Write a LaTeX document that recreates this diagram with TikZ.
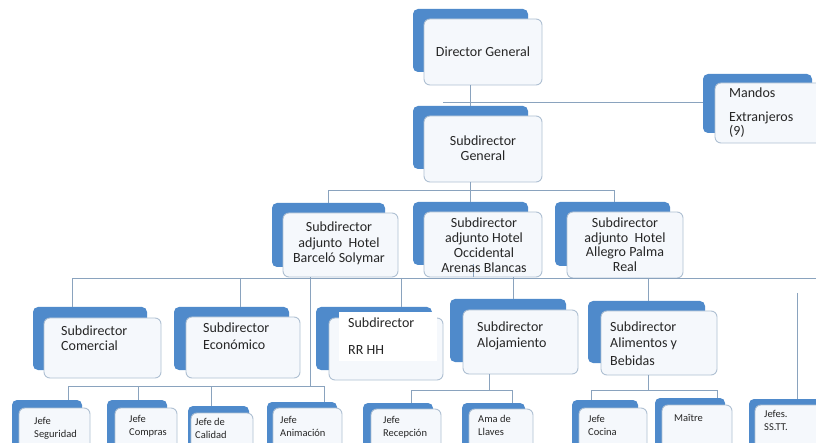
\documentclass[tikz,border=0pt]{standalone}
\usepackage{fontspec}
\setmainfont{Carlito}
\usetikzlibrary{fit}
\definecolor{backblue}{HTML}{4F8ACB}
\definecolor{frontfill}{HTML}{F5F8FC}
\definecolor{frontline}{HTML}{AFC0D3}
\definecolor{connc}{HTML}{8AA3BE}
\definecolor{txtc}{HTML}{262626}
\newcommand\obox[9]{%
  \node[backbox, fit={(#2,#3) (#4,#5)}] (#1b) {};
  \node[frontbox, fit={(#6,#7) (#8,#9)}] (#1) {};
}
\newcommand\linel[5]{\node[#1, anchor=base west] (#2) at (#3,#4) {#5};}
\newcommand\linec[5]{\node[#1, anchor=base] (#2) at (#3,#4) {#5};}
\begin{document}
\begin{tikzpicture}[x=1pt,y=-1pt,
  backbox/.style={rectangle, fill=backblue, rounded corners=5pt, inner sep=0pt},
  frontbox/.style={rectangle, draw=frontline, fill=frontfill, line width=0.9pt, rounded corners=6pt, inner sep=0pt},
  conn/.style={draw=connc, line width=0.9pt},
  big/.style={font=\fontsize{14}{15}\selectfont, text=txtc, inner sep=0pt},
  small/.style={font=\fontsize{10.5}{12}\selectfont, text=txtc, inner sep=0pt}]
\useasboundingbox (0,0) rectangle (816,443);
\fill[white] (0,0) rectangle (816,443);
\clip (0,0) rectangle (816,443);
% boxes
\obox{dg}{413}{9}{528}{72}{424}{19}{542}{85}
\obox{mandos}{703}{74}{812}{133}{715}{83}{830}{143}
\obox{sg}{413}{106}{528}{169}{424}{116}{542}{182}
\obox{barc}{272}{203}{385}{267}{283}{213}{398}{277}
\obox{occ}{413}{202}{528}{265}{424}{212}{542}{277}
\obox{alle}{555}{202}{670}{266}{567}{212}{683}{278}
\obox{com}{33}{307}{147}{370}{44}{318}{161}{378}
\obox{eco}{174}{307}{289}{370}{186}{317}{300}{378}
\obox{rrhh}{316}{307}{432}{370}{329}{318}{443}{380}
\node[fill=white, inner sep=0pt, minimum width=98pt, minimum height=49pt, anchor=north west] (rrhhbg) at (339,312) {};
\obox{aloj}{450}{299}{566}{362}{463}{310}{578}{374}
\obox{alim}{588}{301}{705}{363}{601}{311}{717}{375}
\obox{seg}{12}{400}{82}{450}{19}{408}{90}{450}
\obox{comp}{107}{400}{167}{450}{115}{408}{177}{450}
\obox{cal}{188}{406}{249}{450}{191}{413}{253}{450}
\obox{anim}{267}{402}{337}{450}{273}{408}{342}{450}
\obox{recep}{363}{403}{433}{450}{371}{409}{441}{450}
\obox{ama}{462}{403}{525}{450}{469}{409}{533}{450}
\obox{coc}{572}{400}{638}{450}{579}{408}{647}{450}
\obox{mai}{655}{398}{725}{450}{662}{405}{732}{450}
\obox{sstt}{749}{399}{830}{450}{755}{405}{830}{450}
% connector coordinates
\coordinate (x470) at (470,0);
\coordinate (h1l) at (443,102);
\coordinate (h2l) at (328,190);
\coordinate (h2r) at (614,190);
\coordinate (h3l) at (72,278);
\coordinate (h3r) at (816,278);
\coordinate (x240) at (240,278);
\coordinate (x401) at (401,278);
\coordinate (x513) at (513,0);
\coordinate (x648) at (648,0);
\coordinate (x310) at (310,386);
\coordinate (x473) at (473,264);
\coordinate (x797) at (797,293);
\coordinate (h4l) at (68,386);
\coordinate (h4r) at (324,386);
\coordinate (x138) at (138,386);
\coordinate (x211) at (211,386);
\coordinate (x489) at (489,390);
\coordinate (h5l) at (411,390);
\coordinate (h5r) at (512,390);
\coordinate (h6l) at (591,390);
\coordinate (h6r) at (717,390);
% connectors
\draw[conn] (x470 |- dg.south) -- (x470 |- sgb.north);
\draw[conn] (h1l) -- (mandosb.west |- h1l);
\draw[conn] (x470 |- sg.south) -- (x470 |- occb.north);
\draw[conn] (h2l |- barcb.north) -- (h2l) -- (h2r) -- (h2r |- alleb.north);
\draw[conn] (h3l |- comb.north) -- (h3l) -- (h3r);
\draw[conn] (x240) -- (x240 |- ecob.north);
\draw[conn] (x401) -- (x401 |- rrhhb.north);
\draw[conn] (x513 |- occ.south) -- (x513 |- alojb.north);
\draw[conn] (x648 |- alle.south) -- (x648 |- alimb.north);
\draw[conn] (x473) -- (x473 |- occ.south);
\draw[conn] (x797) -- (x797 |- ssttb.north);
\draw[conn] (x310 |- barc.south) -- (x310);
\draw[conn] (h4l |- segb.north) -- (h4l) -- (h4r) -- (h4r |- animb.north);
\draw[conn] (x138) -- (x138 |- compb.north);
\draw[conn] (x211) -- (x211 |- calb.north);
\draw[conn] (x489 |- aloj.south) -- (x489);
\draw[conn] (h5l |- recepb.north) -- (h5l) -- (h5r) -- (h5r |- amab.north);
\draw[conn] (x648 |- alim.south) -- (x648 |- h6l);
\draw[conn] (h6l |- cocb.north) -- (h6l) -- (h6r) -- (h6r |- maib.north);
% texts
\linec{big}{dgt}{483}{57}{Director General}
\linel{big}{mt1}{729}{98}{Mandos}
\linel{big}{mt2}{729}{122}{Extranjeros}
\linel{big}{mt3}{729}{136}{(9)}
\linec{big}{sgt1}{483}{146}{Subdirector}
\linec{big}{sgt2}{483}{161}{General}
\linec{big}{bat1}{339}{232}{Subdirector}
\linec{big}{bat2}{339}{248}{adjunto\ \ Hotel}
\linec{big}{bat3}{339}{263}{Barceló Solymar}
\linec{big}{oct1}{484}{228}{Subdirector}
\linec{big}{oct2}{484}{243}{adjunto Hotel}
\linec{big}{oct3}{484}{258}{Occidental}
\linec{big}{oct4}{484}{273}{Arenas Blancas}
\linec{big}{alt1}{625}{228}{Subdirector}
\linec{big}{alt2}{625}{243}{adjunto\ \ Hotel}
\linec{big}{alt3}{625}{257}{Allegro Palma}
\linec{big}{alt4}{625}{272}{Real}
\linel{big}{cot1}{61}{335}{Subdirector}
\linel{big}{cot2}{61}{351}{Comercial}
\linel{big}{ect1}{203}{333}{Subdirector}
\linel{big}{ect2}{203}{349}{Económico}
\linel{big}{rrt1}{348}{328}{Subdirector}
\linel{big}{rrt2}{348}{354}{RR HH}
\linel{big}{alot1}{477}{332}{Subdirector}
\linel{big}{alot2}{477}{348}{Alojamiento}
\linel{big}{alit1}{610}{332}{Subdirector}
\linel{big}{alit2}{610}{348}{Alimentos y}
\linel{big}{alit3}{610}{365}{Bebidas}
\linel{small}{set1}{34}{424}{Jefe}
\linel{small}{set2}{34}{437}{Seguridad}
\linel{small}{cpt1}{129}{422}{Jefe}
\linel{small}{cpt2}{129}{435}{Compras}
\linel{small}{cat1}{195}{425}{Jefe de}
\linel{small}{cat2}{195}{438}{Calidad}
\linel{small}{ant1}{280}{423}{Jefe}
\linel{small}{ant2}{280}{436}{Animación}
\linel{small}{ret1}{383}{423}{Jefe}
\linel{small}{ret2}{383}{436}{Recepción}
\linel{small}{amt1}{478}{422}{Ama de}
\linel{small}{amt2}{478}{435}{Llaves}
\linel{small}{cct1}{588}{422}{Jefe}
\linel{small}{cct2}{588}{435}{Cocina}
\linel{small}{mat1}{674}{421}{Maître}
\linel{small}{sst1}{764}{417}{Jefes.}
\linel{small}{sst2}{764}{430}{SS.TT.}
\end{tikzpicture}
\end{document}
